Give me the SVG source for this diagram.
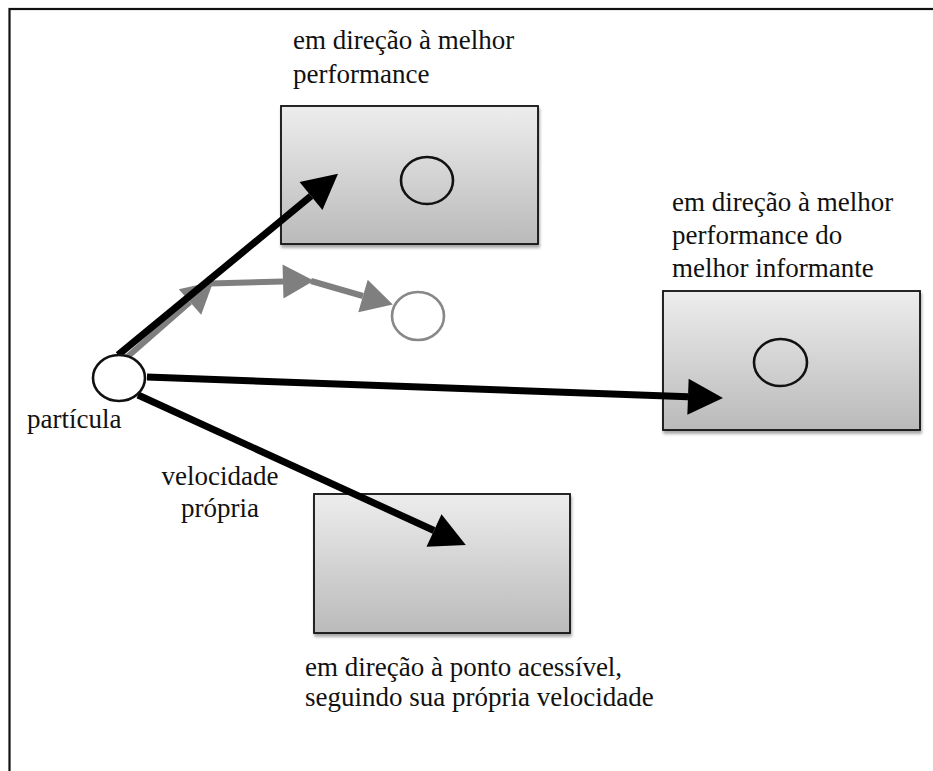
<svg xmlns="http://www.w3.org/2000/svg" width="933" height="771" viewBox="0 0 933 771">
  <style>
    .lbl { font-family: "Liberation Serif", "Times New Roman", serif; font-size: 27px; fill: #111; }
    .box { fill: url(#boxFill); stroke: #111; stroke-width: 1.8; filter: url(#shadow); }
    .ring { fill: none; stroke: #111; stroke-width: 2.6; }
    .pull { fill: none; stroke: #000; stroke-width: 7; marker-end: url(#headBlack); }
    .drift { fill: none; stroke: #7f7f7f; stroke-width: 6; marker-end: url(#headGray); }
  </style>
  <defs>
    <linearGradient id="boxFill" x1="0" y1="0" x2="0" y2="1">
      <stop offset="0" stop-color="#ededed"/>
      <stop offset="1" stop-color="#bababa"/>
    </linearGradient>
    <filter id="shadow" x="-5%" y="-5%" width="112%" height="115%">
      <feGaussianBlur in="SourceAlpha" stdDeviation="1.5"/>
      <feOffset dx="1" dy="2.5" result="b"/>
      <feComponentTransfer><feFuncA type="linear" slope="0.35"/></feComponentTransfer>
      <feMerge><feMergeNode/><feMergeNode in="SourceGraphic"/></feMerge>
    </filter>
    <marker id="headBlack" markerUnits="userSpaceOnUse" markerWidth="36" markerHeight="36" refX="0" refY="18" orient="auto" overflow="visible">
      <path d="M0,0 L35,18 L0,36 Z" fill="#000"/>
    </marker>
    <marker id="headGray" markerUnits="userSpaceOnUse" markerWidth="32" markerHeight="34" refX="0" refY="17" orient="auto" overflow="visible">
      <path d="M0,0 L31,17 L0,34 Z" fill="#7f7f7f"/>
    </marker>
  </defs>

  <rect width="933" height="771" fill="#fff"/>
  <!-- outer frame, running off the right and bottom edges -->
  <rect x="9.5" y="9" width="960" height="800" fill="none" stroke="#111" stroke-width="2.2"/>

  <!-- target regions -->
  <g id="node-best">
    <rect class="box" x="281" y="106" width="257" height="138"/>
    <ellipse class="ring" cx="427" cy="180.5" rx="26" ry="23.5"/>
    <text class="lbl" x="293" y="49">em direção à melhor</text>
    <text class="lbl" x="293" y="83">performance</text>
  </g>

  <g id="node-informant">
    <rect class="box" x="663" y="291" width="257" height="139"/>
    <ellipse class="ring" cx="780.5" cy="362.5" rx="26.5" ry="23.5"/>
    <text class="lbl" x="672" y="211">em direção à melhor</text>
    <text class="lbl" x="672" y="244">performance do</text>
    <text class="lbl" x="672" y="277">melhor informante</text>
  </g>

  <g id="node-own">
    <rect class="box" x="314" y="494" width="256" height="139"/>
    <text class="lbl" x="305" y="676">em direção à ponto acessível,</text>
    <text class="lbl" x="305" y="706">seguindo sua própria velocidade</text>
  </g>

  <g id="node-trace">
    <ellipse cx="418" cy="316" rx="26" ry="24" fill="#fff" stroke="#888" stroke-width="2.6"/>
  </g>

  <g id="connectors">
    <path class="drift" d="M126,358 L190,302"/>
    <path class="drift" d="M210,283.5 L283,281.5"/>
    <path class="drift" d="M311,281 L363,296"/>
    <path class="pull" d="M118,355 L311,196"/>
    <path class="pull" d="M147,377 L688,396.7"/>
    <path class="pull" d="M138,395 L434,530.5"/>
    <text class="lbl" x="220" y="485" text-anchor="middle">velocidade</text>
    <text class="lbl" x="220" y="517" text-anchor="middle">própria</text>
  </g>

  <g id="node-particle">
    <ellipse cx="119" cy="378" rx="26" ry="23" fill="#fff" stroke="#111" stroke-width="2.6"/>
    <text class="lbl" x="27" y="428">partícula</text>
  </g>
</svg>
